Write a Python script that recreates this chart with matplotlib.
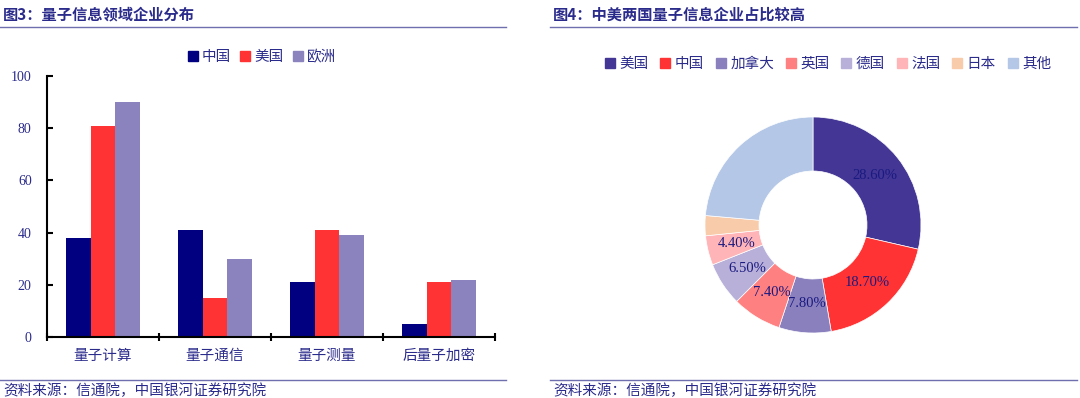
import matplotlib.pyplot as plt
import numpy as np
from matplotlib.lines import Line2D
from matplotlib.patches import Patch

plt.rcParams["font.family"] = ["Liberation Serif", "Noto Sans CJK SC"]

# 图3 数据
fields = ["量子计算", "量子通信", "量子测量", "后量子加密"]
series_names = ["中国", "美国", "欧洲"]
china_vals = [38, 41, 21, 5]
usa_vals = [81, 15, 41, 21]
europe_vals = [90, 30, 39, 22]
bar_colors = ["#000080", "#FF3333", "#8A83BE"]
yticks = [0, 20, 40, 60, 80, 100]

# 图4 数据
countries = ["美国", "中国", "加拿大", "英国", "德国", "法国", "日本", "其他"]
shares = [28.6, 18.7, 7.8, 7.4, 6.5, 4.4, 3.0, 23.6]
shown_labels = 6  # 日本、其他 不标注
pie_colors = ["#433695", "#FF3333", "#8A80BE", "#FF8080", "#B8B0D9", "#FFB5B8", "#F8CBAA", "#B4C7E7"]

TXT = "#2B2B8C"
RULE = "#6F6FB0"

fig = plt.figure(figsize=(10.8, 3.98), dpi=100)


def fx(px):
    return px / 1080


def fy(py):
    return 1 - py / 398


# 标题与分隔线
for x0, x1, title in [(3, 506, "图3：量子信息领域企业分布"), (553, 1077, "图4：中美两国量子信息企业占比较高")]:
    fig.text(fx(x0), fy(15), title, fontsize=11, fontweight="bold", color=TXT,
             family=["Noto Sans CJK SC"], va="center", ha="left")
    fig.add_artist(Line2D([fx(x0 - 3), fx(x1)], [fy(27), fy(27)], color=RULE, lw=1))
    fig.add_artist(Line2D([fx(x0 - 3), fx(x1)], [fy(380), fy(380)], color=RULE, lw=1))
    fig.text(fx(x0), fy(391), "资料来源：信通院，中国银河证券研究院", fontsize=10.5, color=TXT,
             style="italic", va="center", ha="left")

# 柱状图
ax = fig.add_axes([fx(47), fy(337), fx(495) - fx(47), fy(76) - fy(337)])
x = np.arange(len(fields))
w = 0.22
for i, (vals, name) in enumerate(zip([china_vals, usa_vals, europe_vals], series_names)):
    ax.bar(x + (i - 1) * w, vals, width=w, color=bar_colors[i], label=name)
ax.set_xlim(-0.5, len(fields) - 0.5)
ax.set_ylim(0, 100)
ax.set_yticks(yticks)
ax.set_yticklabels([str(v) for v in yticks], color=TXT, fontsize=10)
ax.set_xticks(x)
ax.set_xticklabels(fields, color=TXT, fontsize=10.5)
ax.tick_params(axis="x", length=0, pad=9)
ax.tick_params(axis="y", direction="in", length=4, width=1.5, pad=11)
ax.set_xticks(np.arange(-0.5, len(fields)), minor=True)
ax.tick_params(axis="x", which="minor", direction="inout", length=6, width=1.5)
for s in ["top", "right"]:
    ax.spines[s].set_visible(False)
ax.spines["left"].set_linewidth(1.5)
ax.spines["bottom"].set_linewidth(1.5)

handles = [Patch(color=c) for c in bar_colors]
fig.legend(handles, series_names, loc="center", bbox_to_anchor=(fx(262), fy(57)), ncol=3,
           frameon=False, fontsize=10.5, handlelength=0.7, handleheight=0.7,
           handletextpad=0.3, columnspacing=0.6, labelcolor=TXT)

# 环形图
r = 108
cx, cy = 813, 225
pax = fig.add_axes([fx(cx - r), fy(cy + r), fx(2 * r), fy(cy - r) - fy(cy + r)])

wedges, _ = pax.pie(shares, colors=pie_colors, startangle=90, counterclock=False,
                    radius=1, wedgeprops=dict(width=0.5, edgecolor="white", linewidth=0.5))
for k, wdg in enumerate(wedges[:shown_labels]):
    ang = np.deg2rad((wdg.theta1 + wdg.theta2) / 2)
    pax.text(0.73 * np.cos(ang), 0.73 * np.sin(ang), f"{shares[k]:.2f}%",
             ha="center", va="center", color="#1A1A80", fontsize=10.5)
pax.set_xlim(-1, 1)
pax.set_ylim(-1, 1)
pax.set_aspect("equal")
pax.axis("off")

handles = [Patch(color=c) for c in pie_colors]
fig.legend(handles, countries, loc="center", bbox_to_anchor=(fx(828), fy(64)), ncol=8,
           frameon=False, fontsize=10.5, handlelength=0.7, handleheight=0.7,
           handletextpad=0.3, columnspacing=0.8, labelcolor=TXT)

fig.savefig("out.png", dpi=100)
